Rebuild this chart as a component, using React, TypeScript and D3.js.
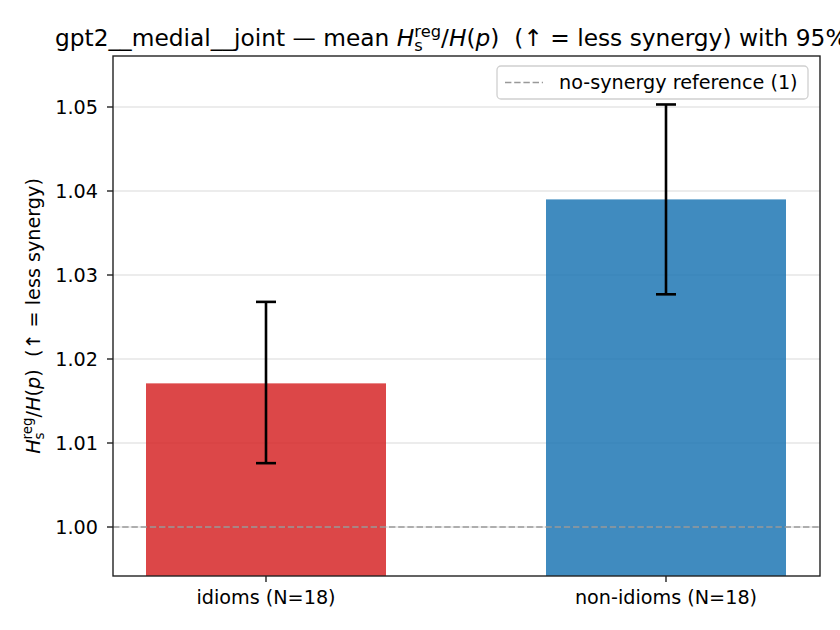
import React from 'react';
import * as d3 from 'd3';

const categories = ['idioms (N=18)', 'non-idioms (N=18)'];
const means = [1.0171, 1.039];
const ciLow = [1.0076, 1.0277];
const ciHigh = [1.0268, 1.0503];
const barColors = ['#d62728', '#1f77b4'];
const yTicks = [1.0, 1.01, 1.02, 1.03, 1.04, 1.05];
const referenceValue = 1;
const titlePrefix = 'gpt2__medial__joint — mean ';
const titleSuffix = '  (↑ = less synergy) with 95% CI';
const ylabelSuffix = '  (↑ = less synergy)';
const legendLabel = 'no-synergy reference (1)';

const FONT = 'DejaVu Sans, sans-serif';

function mathRatio(fs: number, key: string) {
  const small = fs * 0.7;
  return [
    <tspan key={key + 'a'} fontStyle="italic">H</tspan>,
    <tspan key={key + 'b'} fontSize={small} dy={0.22 * fs}>s</tspan>,
    <tspan key={key + 'c'} fontSize={small} dx={-0.521 * small} dy={-0.62 * fs}>reg</tspan>,
    <tspan key={key + 'd'} dy={0.4 * fs}>/</tspan>,
    <tspan key={key + 'e'} fontStyle="italic">H</tspan>,
    <tspan key={key + 'f'}>(</tspan>,
    <tspan key={key + 'g'} fontStyle="italic">p</tspan>,
    <tspan key={key + 'h'}>)</tspan>,
  ];
}

export default function App() {
  const W = 840, H = 630;
  const left = 113, right = 820, top = 56, bottom = 576;
  const x = d3.scaleLinear().domain([-0.3825, 1.385]).range([left, right]);
  const y = d3.scaleLinear().domain([0.994167, 1.056071]).range([bottom, top]);
  const barW = x(0.3) - x(-0.3);
  const fs = 19.2;
  const tfs = 23.3;
  const cap = 10;

  return (
    <div style={{ position: 'absolute', left: 0, top: 0 }}>
      <svg width={W} height={H} style={{ display: 'block', fontFamily: FONT }}>
        <defs>
          <clipPath id="plotclip">
            <rect x={left} y={top} width={right - left} height={bottom - top} />
          </clipPath>
        </defs>
        <rect width={W} height={H} fill="#fff" />
        {/* grid */}
        {yTicks.map((t) => (
          <line key={'g' + t} x1={left} x2={right} y1={y(t)} y2={y(t)} stroke="#e6e6e6" strokeWidth={1.3} />
        ))}
        <g clipPath="url(#plotclip)">
          {categories.map((c, i) => (
            <rect key={c} x={x(i) - barW / 2} width={barW} y={y(means[i])} height={bottom + 10 - y(means[i])}
              fill={barColors[i]} fillOpacity={0.85} />
          ))}
          <line x1={left} x2={right} y1={y(referenceValue)} y2={y(referenceValue)} stroke="#999" strokeWidth={1.6}
            strokeDasharray="6.4,2.8" />
        </g>
        {/* error bars */}
        {categories.map((c, i) => (
          <g key={'e' + c} stroke="#000" strokeWidth={2.6}>
            <line x1={x(i)} x2={x(i)} y1={y(ciLow[i])} y2={y(ciHigh[i])} />
            <line x1={x(i) - cap} x2={x(i) + cap} y1={y(ciLow[i])} y2={y(ciLow[i])} />
            <line x1={x(i) - cap} x2={x(i) + cap} y1={y(ciHigh[i])} y2={y(ciHigh[i])} />
          </g>
        ))}
        {/* frame */}
        <rect x={left} y={top} width={right - left} height={bottom - top} fill="none" stroke="#222" strokeWidth={1.4} />
        {/* y ticks */}
        {yTicks.map((t) => (
          <g key={'t' + t}>
            <line x1={left - 6} x2={left} y1={y(t)} y2={y(t)} stroke="#222" strokeWidth={1.4} />
            <text x={left - 15} y={y(t)} dy="0.35em" textAnchor="end" fontSize={fs} fill="#000">{d3.format('.2f')(t)}</text>
          </g>
        ))}
        {/* x ticks */}
        {categories.map((c, i) => (
          <g key={'x' + c}>
            <line x1={x(i)} x2={x(i)} y1={bottom} y2={bottom + 6} stroke="#222" strokeWidth={1.4} />
            <text x={x(i)} y={bottom + 28} textAnchor="middle" fontSize={fs} fill="#000">{c}</text>
          </g>
        ))}
        {/* y label */}
        <text transform={`translate(40,${(top + bottom) / 2}) rotate(-90)`} textAnchor="middle" fontSize={fs}
          fill="#000" style={{ whiteSpace: 'pre' }}>
          {mathRatio(fs, 'y')}
          <tspan>{ylabelSuffix}</tspan>
        </text>
        {/* title */}
        <text x={(left + right) / 2} y={46} textAnchor="middle" fontSize={tfs} fill="#000" style={{ whiteSpace: 'pre' }}>
          <tspan>{titlePrefix}</tspan>
          {mathRatio(tfs, 't')}
          <tspan>{titleSuffix}</tspan>
        </text>
        {/* legend */}
        <g>
          <rect x={497} y={66} width={311} height={33} rx={4} fill="#fff" fillOpacity={0.8} stroke="#d0d0d0" strokeWidth={1.3} />
          <line x1={505} x2={543} y1={82.5} y2={82.5} stroke="#999" strokeWidth={1.6} strokeDasharray="6.4,2.8" />
          <text x={559} y={82.5} dy="0.35em" fontSize={fs} fill="#000">{legendLabel}</text>
        </g>
      </svg>
    </div>
  );
}
